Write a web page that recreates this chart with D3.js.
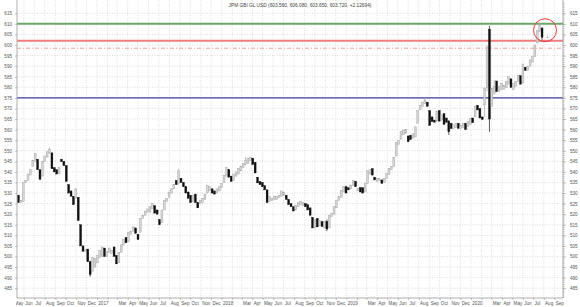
<!DOCTYPE html>
<html>
<head>
<meta charset="utf-8">
<script src="https://d3js.org/d3.v7.min.js"></script>
<style>
  body { margin: 0; background: #fff; }
  text { font-family: "Liberation Sans", Arial, sans-serif; }
</style>
</head>
<body>
<div id="chart"></div>
<script>
var title = "JPM GBI GL USD (603.560, 606.080, 603.650, 603.720, +2.12694)";

// weekly candles, first week starting 2016-05-16
var firstWeek = "2016-05-16";
var opens = [
  529, 525.5, 526, 535, 536, 538.5, 542.5, 545, 546, 541,
  538, 545, 547, 549, 549, 542, 541, 539, 546, 545,
  543, 534, 531, 528.5, 527.5, 528, 515, 505, 502.5, 503.5,
  497.5, 493, 495, 497, 499.5, 500, 504, 500, 502, 501.5,
  504.5, 500.5, 497, 502, 505.5, 509, 507, 510.5, 512, 513.5,
  510.5, 511.5, 518, 519.5, 521, 521, 522.5, 524, 522, 517.5,
  516, 522, 526, 528, 530, 532, 536, 534.5, 537, 535,
  533, 530.5, 529, 526, 529.5, 525.5, 525, 525.5, 527, 530,
  531, 532, 531, 530, 531, 532.5, 535, 538, 541, 538,
  536, 538, 539, 540.5, 542, 543.5, 544, 545.5, 546.5, 544.5,
  537.5, 535.5, 535, 533.5, 531.5, 526, 526.5, 527, 527, 528,
  528.5, 529, 529, 527, 525, 523.5, 522, 523.5, 524.5, 524,
  525, 524.5, 523, 518.5, 513.5, 518, 514.5, 516.5, 513.5, 516.5,
  513.5, 519, 520, 523, 526.5, 528, 530.5, 533, 532.5, 532,
  533.5, 535.5, 531, 532.5, 532.5, 530.5, 534.5, 539, 541.5, 537.5,
  535.5, 536, 536.2, 535, 537, 538.8, 541, 542.5, 547.5, 553,
  555.5, 557.5, 558.3, 557, 557.3, 556, 556.5, 563, 569.3, 571,
  572.5, 573, 569, 566, 564.5, 564, 569, 564.5, 567.5, 565.5,
  564, 563, 560.5, 561, 563, 560.6, 561, 563, 561.4, 562.5,
  565.5, 566, 571.5, 570, 566, 571.7, 580, 607.5, 571, 577,
  583, 578, 579, 579, 580, 581.5, 584, 579, 580.5, 582.7,
  585.5, 582, 589.5, 588, 590, 592, 594.5, 601, 606.5, 608
];
var closes = [
  525.5, 526.5, 535, 536, 539, 541, 545.5, 548.8, 541, 536.5,
  545, 547.5, 549.5, 550.5, 541.5, 540, 539, 542, 544.8, 543,
  535.5, 530, 528.5, 524.5, 532, 517, 505, 502.5, 503.5, 497.5,
  491.5, 499.5, 499, 500.5, 503, 504.5, 500, 502.5, 504, 503,
  500, 496.5, 502, 505.5, 508, 506.5, 511.5, 512, 514, 511,
  508, 518, 519.5, 521.5, 522.5, 523.5, 525, 520.5, 520, 515,
  522, 526.5, 527.5, 530.5, 532, 534, 534, 540.5, 535, 533,
  530, 527.5, 525.5, 529, 525.5, 523, 526.5, 527.5, 529.5, 533.5,
  533, 530, 529.5, 532, 533, 534.5, 538.5, 542, 537.5, 535.5,
  539, 540, 541.5, 542.5, 544, 545.5, 546.5, 547, 543.5, 539.5,
  534.8, 534, 533, 531.5, 525.5, 528.5, 527.5, 528.5, 528.5, 529,
  531, 530.5, 527, 524.5, 523.5, 521.5, 524, 525.5, 526, 525.5,
  523.5, 522, 519.5, 513.5, 517.5, 514, 517, 514.2, 516.5, 513,
  519.5, 520.5, 523.5, 526.5, 528.3, 531.3, 533, 530, 531.5, 533.8,
  536, 533, 532.2, 530.5, 530, 534.5, 540.5, 541, 538.5, 536.2,
  537, 536.8, 534.6, 537, 539.3, 541.7, 542.5, 547, 554, 555,
  559, 559.8, 560, 554.3, 555.3, 558, 561.3, 569, 571.6, 573,
  574, 571, 562, 563.8, 563.5, 568.5, 564, 567, 562.5, 563.5,
  559, 560.5, 562.2, 563, 560.6, 562.2, 563, 560, 563.8, 565.4,
  563.3, 570.8, 569.3, 565.5, 564.8, 579.6, 599, 565, 579.6, 580.4,
  578, 580.4, 581.9, 581, 582.7, 585, 580, 581.9, 582.7, 585.5,
  581.5, 591, 588, 590, 593, 594.5, 600, 607, 609.5, 603.7
];
// [week index, high, low] where the wick reaches past the body
var wicks = [
  [13, 551.5, 548.5], [30, 498, 490.5], [67, 541.5, 534], [95, 547, 543],
  [129, 517.5, 512], [170, 575.5, 572], [180, 564.5, 557.5], [195, 580, 566],
  [196, 600, 578], [197, 609, 559], [199, 583.5, 576.5], [218, 610.5, 606],
  [219, 608.5, 602.5]
];

var yTicks = d3.range(485, 616, 5);
var levels = [
  { v: 610, color: "#6aa86a", width: 2, dash: null },
  { v: 602, color: "#f27d7d", width: 2, dash: null },
  { v: 598.5, color: "#f59a9a", width: 1, dash: "4,2,1,2" },
  { v: 575, color: "#3c3ca8", width: 1.3, dash: null }
];

var W = 580, H = 307;
var pl = 17, pr = 563, pt = 0, pb = 298;

var svg = d3.select("#chart").append("svg")
  .attr("width", W).attr("height", H);

var x = d3.scaleTime()
  .domain([new Date(2017, 0, 1), new Date(2020, 0, 1)])
  .range([97, 471]);
var y = d3.scaleLinear().domain([485, 615]).range([288.2, 13.3]);

var defs = svg.append("defs");
defs.append("clipPath").attr("id", "plot")
  .append("rect").attr("x", pl).attr("y", pt)
  .attr("width", pr - pl).attr("height", pb - pt);
defs.append("clipPath").attr("id", "xlab")
  .append("rect").attr("x", pl - 1).attr("y", -1)
  .attr("width", W - pl).attr("height", H - pb + 2);

// grid
var months = d3.timeMonth.range(new Date(2016, 4, 1), new Date(2020, 9, 1));
var grid = svg.append("g").attr("clip-path", "url(#plot)");
grid.selectAll(".hg").data(yTicks).enter().append("line")
  .attr("x1", pl).attr("x2", pr)
  .attr("y1", function(d) { return y(d); }).attr("y2", function(d) { return y(d); })
  .attr("stroke", "#d6d6d6").attr("stroke-width", 0.8).attr("stroke-dasharray", "1,1.5");
grid.selectAll(".vg").data(months).enter().append("line")
  .attr("x1", function(d) { return x(d); }).attr("x2", function(d) { return x(d); })
  .attr("y1", pt).attr("y2", pb)
  .attr("stroke", "#d6d6d6").attr("stroke-width", 0.8).attr("stroke-dasharray", "1,1.5");

// level lines
svg.append("g").selectAll("line").data(levels).enter().append("line")
  .attr("x1", pl).attr("x2", pr)
  .attr("y1", function(d) { return y(d.v); }).attr("y2", function(d) { return y(d.v); })
  .attr("stroke", function(d) { return d.color; })
  .attr("stroke-width", function(d) { return d.width; })
  .attr("stroke-dasharray", function(d) { return d.dash; });

// candles
var start = d3.timeParse("%Y-%m-%d")(firstWeek);
var data = opens.map(function(o, i) {
  var c = closes[i];
  return { date: d3.timeWeek.offset(start, i), o: o, c: c, h: Math.max(o, c), l: Math.min(o, c) };
});
wicks.forEach(function(w) { data[w[0]].h = w[1]; data[w[0]].l = w[2]; });

var cw = 1.9;
var cg = svg.append("g").attr("clip-path", "url(#plot)");
var candle = cg.selectAll("g").data(data).enter().append("g");
candle.append("line")
  .attr("x1", function(d) { return x(d.date); }).attr("x2", function(d) { return x(d.date); })
  .attr("y1", function(d) { return y(d.h); }).attr("y2", function(d) { return y(d.l); })
  .attr("stroke", function(d) { return d.c < d.o ? "#111" : "#a0a0a0"; })
  .attr("stroke-width", 0.7);
candle.append("rect")
  .attr("x", function(d) { return x(d.date) - cw / 2; })
  .attr("width", cw)
  .attr("y", function(d) { return y(Math.max(d.o, d.c)); })
  .attr("height", function(d) { return Math.max(0.8, Math.abs(y(d.o) - y(d.c))); })
  .attr("fill", function(d) { return d.c < d.o ? "#111" : "#d6d6d6"; })
  .attr("stroke", function(d) { return d.c < d.o ? "#111" : "#a0a0a0"; })
  .attr("stroke-width", 0.4);

// marker on last candle
var last = data[data.length - 1];
svg.append("circle")
  .attr("cx", x(last.date) + 3).attr("cy", y(607))
  .attr("r", 11.5)
  .attr("fill", "none").attr("stroke", "#e23b3b").attr("stroke-width", 1);
svg.append("text")
  .attr("x", x(last.date) + 4).attr("y", y(603.5))
  .attr("font-size", 6).attr("fill", "#333")
  .text("\u2193");

// axes
var yRight = d3.axisRight(y).tickValues(yTicks).tickSize(3).tickPadding(4);
var yRightMinor = d3.axisRight(y).tickValues(d3.range(481, 621)).tickSize(1.5).tickFormat("");
var yLeft = d3.axisLeft(y).tickValues(yTicks).tickSize(2).tickPadding(3);

function styleAxis(g) {
  g.select(".domain").remove();
  g.selectAll(".tick line").attr("stroke", "#999").attr("stroke-width", 0.6);
  g.selectAll("text").attr("font-size", 4.6).attr("fill", "#555")
    .attr("font-family", "Liberation Sans, Arial, sans-serif");
}

svg.append("g").attr("transform", "translate(" + pr + ",0)").call(yRightMinor).call(styleAxis);
svg.append("g").attr("transform", "translate(" + pr + ",0)").call(yRight).call(styleAxis);
svg.append("g").attr("transform", "translate(" + pl + ",0)").call(yLeft).call(styleAxis);

var fmt = function(d) { return d.getMonth() === 0 ? d3.timeFormat("%Y")(d) : d3.timeFormat("%b")(d); };
var xAxis = d3.axisBottom(x).tickValues(months).tickSize(2).tickFormat(fmt);
var xg = svg.append("g").attr("transform", "translate(0," + pb + ")")
  .attr("clip-path", "url(#xlab)")
  .call(xAxis).call(styleAxis);
xg.selectAll("text").attr("text-anchor", "start").attr("dx", "0.8").attr("dy", null).attr("y", 6.5);
// hide labels that would overlap the previous one
var lastEnd = -1e9;
xg.selectAll(".tick").each(function(d) {
  var t = d3.select(this).select("text");
  var x0 = x(d) + 0.8, wd = t.node().getComputedTextLength();
  if (x0 < lastEnd + 0.5) t.remove(); else lastEnd = x0 + wd;
});

// frame
svg.append("line").attr("x1", pl).attr("x2", pl).attr("y1", pt).attr("y2", pb)
  .attr("stroke", "#999").attr("stroke-width", 0.8);
svg.append("line").attr("x1", pr).attr("x2", pr).attr("y1", pt).attr("y2", pb)
  .attr("stroke", "#999").attr("stroke-width", 0.8);
svg.append("line").attr("x1", pl).attr("x2", pr).attr("y1", pb).attr("y2", pb)
  .attr("stroke", "#999").attr("stroke-width", 0.8);

// title
svg.append("text").attr("x", 300).attr("y", 6.5)
  .attr("text-anchor", "middle").attr("font-size", 4.8).attr("fill", "#444")
  .text(title);
</script>
</body>
</html>
